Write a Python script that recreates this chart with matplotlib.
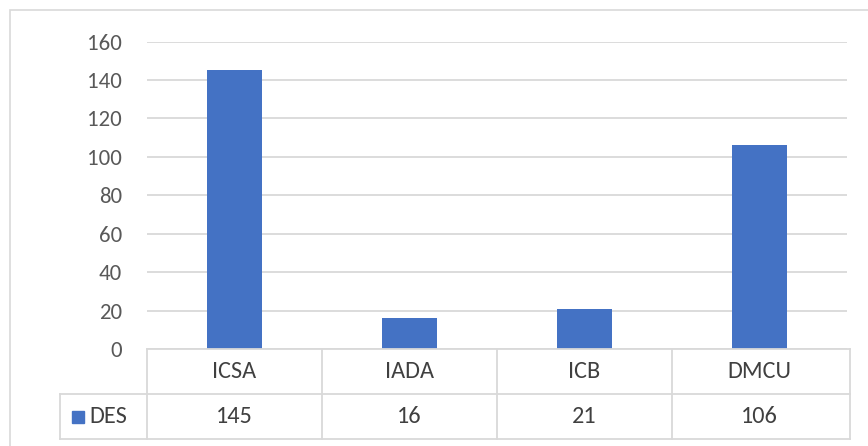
import matplotlib
matplotlib.use("Agg")
import matplotlib.pyplot as plt
from matplotlib.patches import Rectangle
from matplotlib import font_manager

categories = ["ICSA", "IADA", "ICB", "DMCU"]
series_name = "DES"
values = [145, 16, 21, 106]
yticks = [0, 20, 40, 60, 80, 100, 120, 140, 160]

avail = {f.name for f in font_manager.fontManager.ttflist}
fam = "Carlito" if "Carlito" in avail else "Lato"
plt.rcParams["font.family"] = [fam, "DejaVu Sans"]

W, H = 868, 446
fig = plt.figure(figsize=(W / 100, H / 100), dpi=100)
fig.patch.set_facecolor("white")

grid_c = "#d9d9d9"
text_c = "#595959"
bar_c = "#4472C4"

# outer border
fig.add_artist(Rectangle((10 / W, -0.1), 1.2, 1 - 10 / H + 0.1, transform=fig.transFigure,
                         fill=False, edgecolor=grid_c, linewidth=1.2))

x0, x1 = 147, 847
y_top, y_bot = 41.5, 349
ax = fig.add_axes([x0 / W, 1 - y_bot / H, (x1 - x0) / W, (y_bot - y_top) / H])
xs = list(range(len(categories)))
ax.bar(xs, values, width=0.31, color=bar_c, zorder=3)
ax.set_xlim(-0.5, len(categories) - 0.5)
ax.set_ylim(0, 160)
ax.set_yticks(yticks)
ax.set_yticklabels([str(t) for t in yticks], fontsize=16.5, color=text_c)
ax.tick_params(axis="y", length=0, pad=18)
ax.tick_params(axis="x", length=0, labelbottom=False)
ax.grid(axis="y", color=grid_c, linewidth=1.3, zorder=0)
for s in ax.spines.values():
    s.set_visible(False)
ax.set_facecolor("none")

# data table
t_top, t_bot = 349, 439
tax = fig.add_axes([x0 / W, 1 - t_bot / H, (x1 - x0) / W, (t_bot - t_top) / H])
tax.set_xlim(-0.5, len(categories) - 0.5)
tax.set_ylim(0, 2)
tax.axis("off")
left_x = -0.5 - (x0 - 60) / ((x1 - x0) / len(categories))
lk = dict(color=grid_c, linewidth=1.3, clip_on=False)
tax.plot([-0.5, len(categories) - 0.5 + 0.02], [2, 2], **lk)
tax.plot([left_x, len(categories) - 0.5 + 0.02], [1, 1], **lk)
tax.plot([left_x, len(categories) - 0.5 + 0.02], [0, 0], **lk)
tax.plot([left_x, left_x], [0, 1], **lk)
for i in range(len(categories) + 1):
    xv = i - 0.5 + (0.02 if i == len(categories) else 0)
    tax.plot([xv, xv], [0, 2], **lk)
for i, (c, v) in enumerate(zip(categories, values)):
    tax.text(i, 1.5, c, ha="center", va="center", fontsize=17.5, color="#404040")
    tax.text(i, 0.5, str(v), ha="center", va="center", fontsize=17.5, color="#404040")
tax.plot([left_x + 0.1], [0.5], marker="s", markersize=8, color=bar_c, clip_on=False, linestyle="none")
tax.text(left_x + 0.165, 0.5, series_name, ha="left", va="center", fontsize=17.5, color="#404040")

fig.savefig("out.png", dpi=100)
